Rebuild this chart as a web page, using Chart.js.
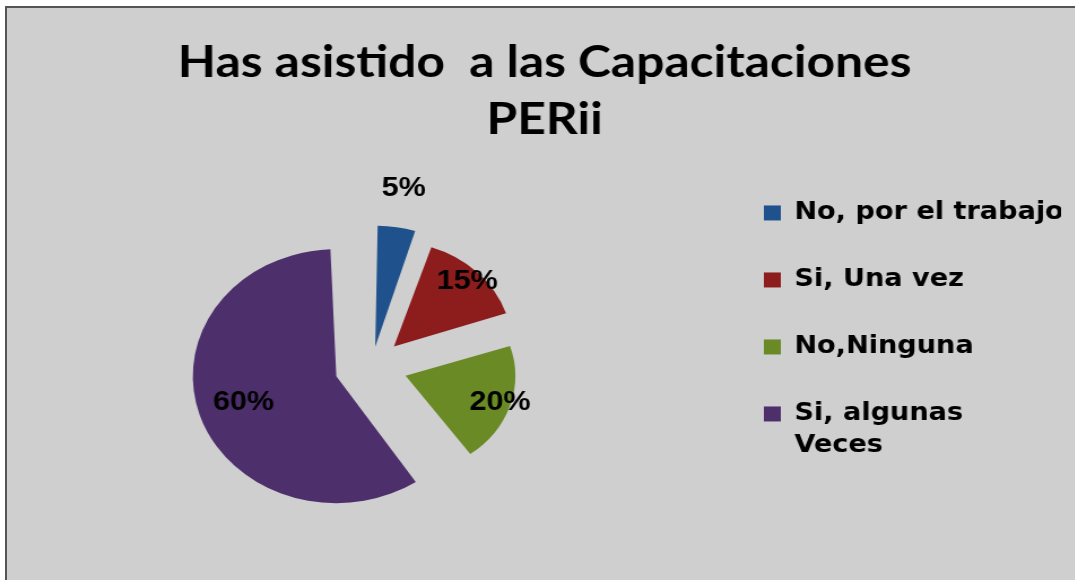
<!DOCTYPE html>
<html>
<head>
<meta charset="utf-8">
<script src="https://cdn.jsdelivr.net/npm/chart.js@4/dist/chart.umd.min.js"></script>
<style>
html, body { margin: 0; padding: 0; background: #fff; overflow: hidden; }
#frame { position: absolute; left: 5px; top: 6px; width: 1100px; height: 600px;
         border-left: 2px solid #555; border-top: 2px solid #555; background: #cfcfcf; }
/* the original picture is a bit wider than tall, so the chart is stretched sideways */
#wrap { position: absolute; left: 0; top: 0; width: 951px; height: 580px;
        transform: scaleX(1.13); transform-origin: 0 0; }
</style>
</head>
<body>
<div id="frame"></div>
<div id="wrap"><canvas id="myChart" width="951" height="580"></canvas></div>
<script>
// data

const titleLines = ['Has asistido  a las Capacitaciones', 'PERii'];
const labels = ['No, por el trabajo', 'Si, Una vez', 'No,Ninguna', ['Si, algunas', 'Veces']];
const values = [5, 15, 20, 60];
const colors = ['#1f528c', '#8d1c1c', '#698a24', '#4d2f6c'];

const explode = 33; // how far each slice is pulled out
const total = values.reduce((a, b) => a + b, 0);

// chart.js moves a slice by offset/4 * (1 + fix) (no extra push past half a turn),
// so work back from the wanted distance
function sliceOffset(ctx) {
    const circ = 2 * Math.PI * values[ctx.dataIndex] / total;
    const fix = circ >= Math.PI ? 0 : 1 - Math.sin(circ);
    return 4 * explode / (1 + fix);
}

// chart.js also grows each slice by offset/4, take that back so all slices share one radius
const sameRadius = {
    id: 'sameRadius',
    beforeDatasetDraw(chart, args) {
        const meta = args.meta;
        meta.data.forEach((arc) => {
            arc.outerRadius = meta.controller.outerRadius - arc.options.offset / 4;
        });
    }
};

// percent labels, inside the slice or outside for the small one
const pctLabels = {
    id: 'pctLabels',
    afterDatasetsDraw(chart) {
        const ctx = chart.ctx;
        const meta = chart.getDatasetMeta(0);
        const r = meta.controller.outerRadius;
        ctx.save();
        ctx.font = 'bold 27px "Liberation Sans", Arial, sans-serif';
        ctx.fillStyle = '#000';
        ctx.textAlign = 'center';
        ctx.textBaseline = 'middle';
        meta.data.forEach((arc, i) => {
            const mid = (arc.startAngle + arc.endAngle) / 2;
            const share = values[i] / total;
            const dist = explode + (share < 0.08 ? r + 20 : r * 0.68);
            ctx.fillText(Math.round(share * 100) + '%', arc.x + Math.cos(mid) * dist, arc.y + Math.sin(mid) * dist);
        });
        ctx.restore();
    }
};

const myChart = document.getElementById('myChart').getContext('2d');

let pieChart = new Chart(myChart, {
    type: 'pie',
    data: {
        labels: labels,
        datasets: [{
            data: values,
            backgroundColor: colors,
            borderWidth: 0,
            offset: sliceOffset
        }]
    },
    options: {
        responsive: false,
        animation: false,
        radius: 127,
        layout: { padding: { left: 25, right: 12, top: 0, bottom: 6 } },
        plugins: {
            title: {
                display: true,
                text: titleLines,
                color: '#000',
                font: { family: 'Lato', weight: 'bold', size: 44, lineHeight: 1.295 },
                padding: { top: 34, bottom: 10 }
            },
            legend: {
                position: 'right',
                align: 'start',
                fullSize: false,
                maxWidth: 306,
                labels: {
                    boxWidth: 15,
                    boxHeight: 15,
                    padding: 43,
                    color: '#000',
                    font: { family: 'DejaVu Sans', weight: 'bold', size: 24, lineHeight: 1.31 }
                }
            },
            tooltip: { enabled: false }
        }
    },
    plugins: [sameRadius, pctLabels]
});
</script>
</body>
</html>
